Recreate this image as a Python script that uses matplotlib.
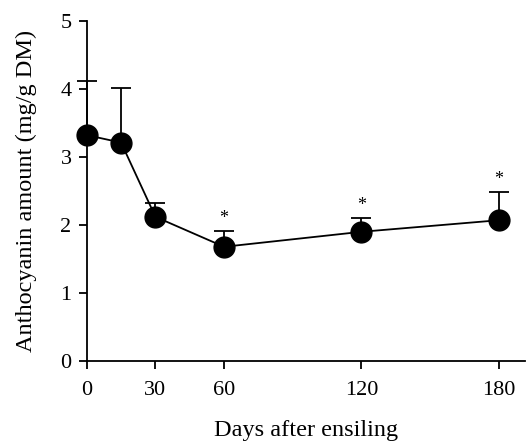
import numpy as np
import matplotlib.pyplot as plt

plt.rcParams['font.family'] = ['Liberation Serif', 'DejaVu Serif']

days = [0, 15, 30, 60, 120, 180]
amount = [3.32, 3.21, 2.12, 1.68, 1.90, 2.07]
upper = [4.12, 4.01, 2.33, 1.91, 2.10, 2.48]
star_days = [60, 120, 180]

amount = np.array(amount)
err_up = np.array(upper) - amount

fig = plt.figure(figsize=(5.26, 4.41), dpi=100)
ax = fig.add_axes([0.165, 0.181, 0.833, 0.772])

ax.errorbar(days, amount, yerr=[np.zeros_like(amount), err_up], color='black',
            marker='o', markersize=15, linewidth=1.3, elinewidth=1.3,
            capsize=7.5, capthick=1.3, clip_on=False, zorder=3)

for d in star_days:
    i = days.index(d)
    ax.text(d, upper[i] + 0.06, '*', ha='center', va='bottom', fontsize=13)

ax.set_xlim(0, 191.5)
ax.set_ylim(0, 5)
ax.set_xticks([0, 30, 60, 120, 180])
ax.set_yticks([0, 1, 2, 3, 4, 5])
ax.spines['top'].set_visible(False)
ax.spines['right'].set_visible(False)
ax.spines['left'].set_linewidth(1.3)
ax.spines['bottom'].set_linewidth(1.3)
ax.tick_params(direction='out', length=6, width=1.3, labelsize=16)
ax.tick_params(axis='x', pad=8)
ax.tick_params(axis='y', pad=5)
ax.set_xlabel('Days after ensiling', fontsize=17.5, labelpad=15)
ax.set_ylabel('Anthocyanin amount (mg/g DM)', fontsize=17.5, labelpad=17)

fig.savefig('out.png', dpi=100)
